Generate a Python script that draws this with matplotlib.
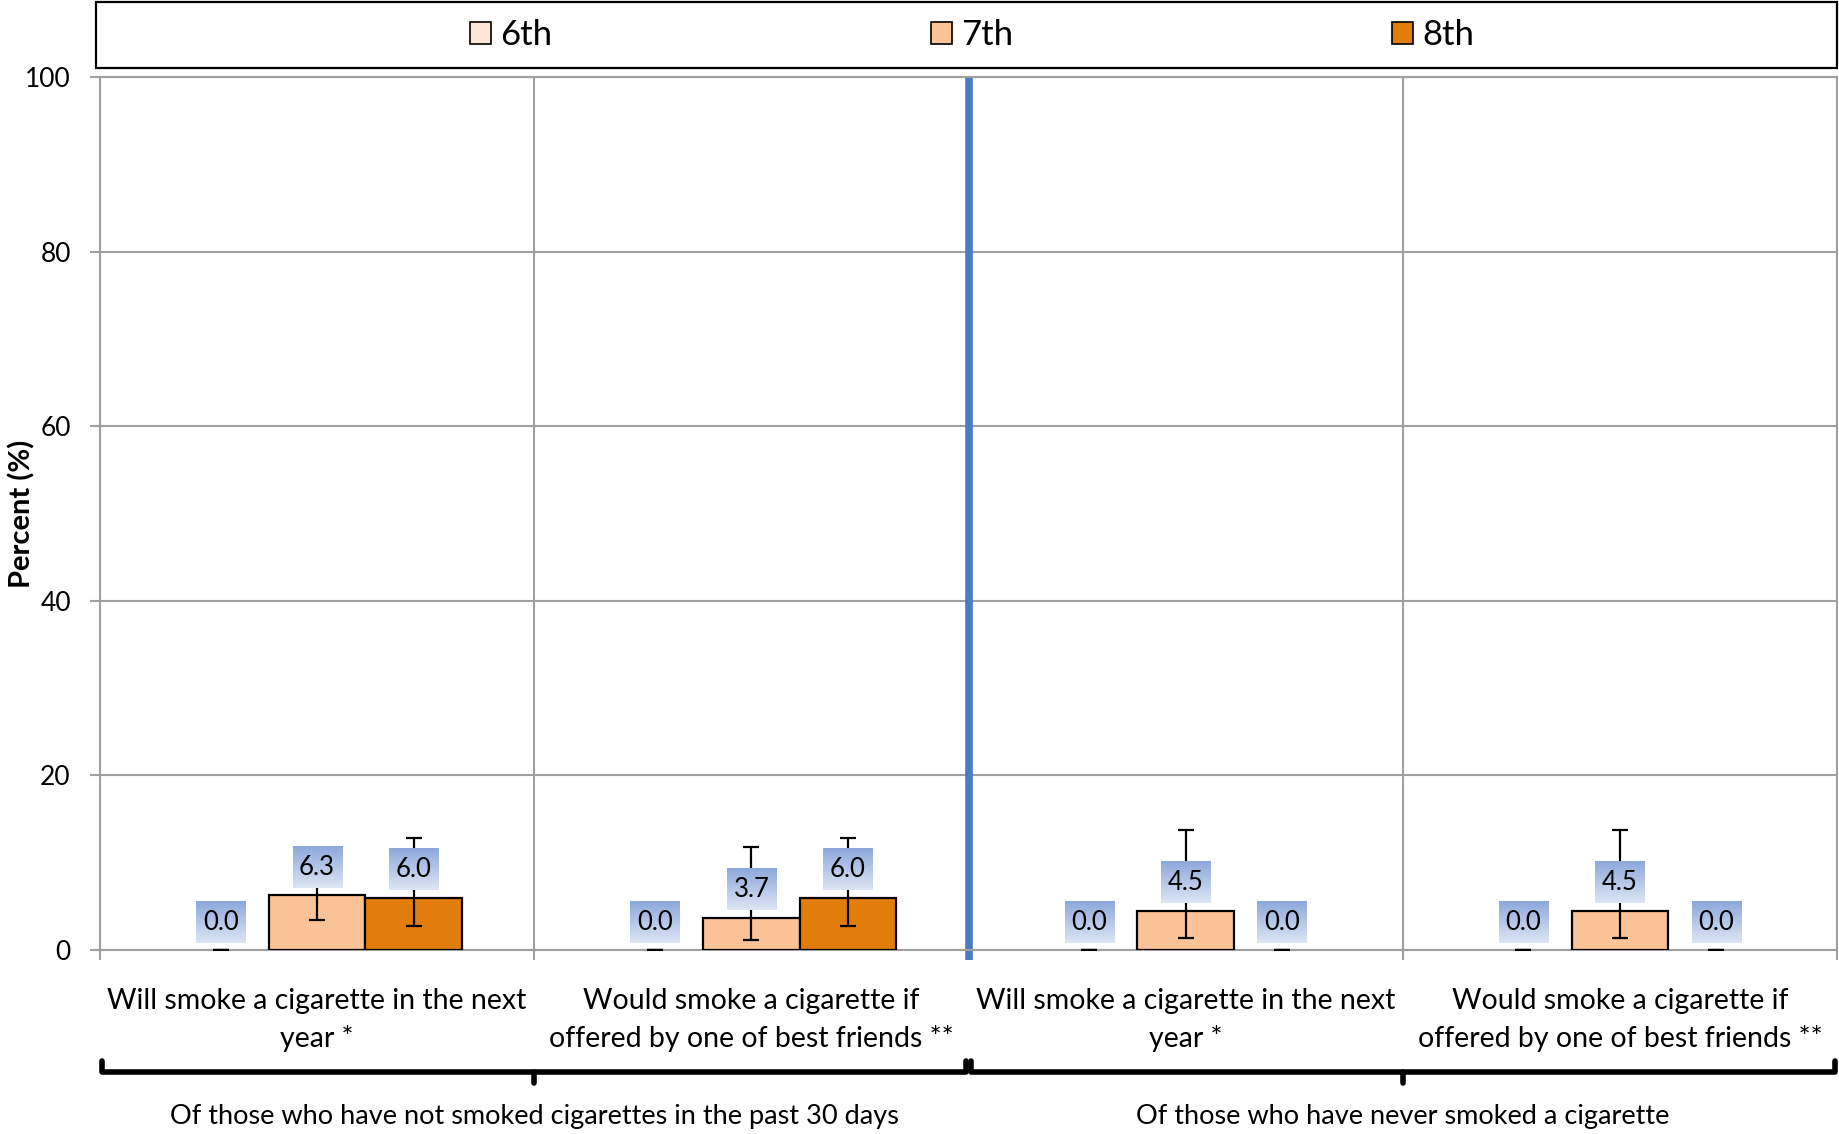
import numpy as np
import matplotlib
matplotlib.use("Agg")
import matplotlib.pyplot as plt
from matplotlib.patches import Rectangle, Patch
import matplotlib.transforms as mtransforms

plt.rcParams["font.family"] = ["Lato", "DejaVu Sans"]

# data
categories = [
    "Will smoke a cigarette in the next\nyear *",
    "Would smoke a cigarette if\noffered by one of best friends **",
    "Will smoke a cigarette in the next\nyear *",
    "Would smoke a cigarette if\noffered by one of best friends **",
]
groups = [
    "Of those who have not smoked cigarettes in the past 30 days",
    "Of those who have never smoked a cigarette",
]
series = ["6th", "7th", "8th"]
grade6 = [0.0, 0.0, 0.0, 0.0]
grade7 = [6.3, 3.7, 4.5, 4.5]
grade8 = [6.0, 6.0, 0.0, 0.0]
low6 = [0.0, 0.0, 0.0, 0.0]
high6 = [0.0, 0.0, 0.0, 0.0]
low7 = [3.4, 1.2, 1.4, 1.4]
high7 = [11.0, 11.8, 13.7, 13.7]
low8 = [2.7, 2.7, 0.0, 0.0]
high8 = [12.8, 12.8, 0.0, 0.0]

colors = ["#FDE6D8", "#FCC397", "#E27C0B"]
grid_col = "#A0A0A0"

fig = plt.figure(figsize=(18.39, 11.34), dpi=100)
ax = fig.add_axes([100 / 1839, 1 - 950 / 1134, 1737 / 1839, 873 / 1134])

x = np.arange(len(categories)) + 0.5
width = 0.222
offsets = [-width, 0.0, width]
values = [grade6, grade7, grade8]
lows = [low6, low7, low8]
highs = [high6, high7, high8]

# gradient for the data label boxes (darker blue on top)
grad = np.linspace(0, 1, 64)[:, None]
top_c = np.array([0.55, 0.66, 0.86])
bot_c = np.array([0.87, 0.90, 0.96])
grad_img = top_c[None, None, :] * (1 - grad[:, :, None]) + bot_c[None, None, :] * grad[:, :, None]

for vals, lo, hi, off, col in zip(values, lows, highs, offsets, colors):
    vals = np.array(vals)
    edges = ["black" if v > 0 else "none" for v in vals]
    ax.bar(x + off, vals, width, color=col, edgecolor=edges, linewidth=1.6, zorder=3)
    yerr = np.vstack([vals - np.array(lo), np.array(hi) - vals])
    ax.errorbar(x + off, vals, yerr=yerr, fmt="none", ecolor="black",
                elinewidth=1.6, capsize=5.5, capthick=1.6, zorder=4)
    for xi, v in zip(x + off, vals):
        yc = v + 3.2
        ax.imshow(grad_img, extent=[xi - 0.0565, xi + 0.0565, yc - 2.35, yc + 2.35],
                  aspect="auto", zorder=5, interpolation="bilinear")
        ax.text(xi, yc, f"{v:.1f}", ha="center", va="center", fontsize=18.5, zorder=6)

ax.set_xlim(0, 4)
ax.set_ylim(0, 100)
ax.set_yticks(np.arange(0, 101, 20))
ax.set_xticks(np.arange(0, 5))
ax.set_xticklabels([])
ax.tick_params(axis="both", direction="out", length=7, width=1.5, color=grid_col)
ax.tick_params(axis="y", labelsize=19, pad=14)
ax.grid(True, color=grid_col, linewidth=1.5, zorder=0)
ax.set_axisbelow(True)
for s in ax.spines.values():
    s.set_color(grid_col)
    s.set_linewidth(1.5)

ax.set_ylabel("Percent (%)", fontsize=21, fontweight="bold")
ax.yaxis.set_label_coords(-0.037, 0.5)

# divider between the two groups
ax.axvline(2, ymin=-0.011, ymax=1, color="#4A7CC3", linewidth=5.5, clip_on=False,
           solid_capstyle="butt", zorder=2)

trans = mtransforms.blended_transform_factory(ax.transData, ax.transAxes)
for xi, lab in zip(x, categories):
    ax.text(xi, -0.044, lab, transform=trans, ha="center", va="top",
            fontsize=20.5, linespacing=1.5)

for gi, glab in enumerate(groups):
    a, b = 2 * gi + 0.005, 2 * gi + 1.995
    ax.plot([a, a, b, b], [-0.127, -0.140, -0.140, -0.127], color="black",
            linewidth=4, transform=trans, clip_on=False,
            solid_joinstyle="round", solid_capstyle="round")
    ax.plot([2 * gi + 1, 2 * gi + 1], [-0.140, -0.152], color="black",
            linewidth=4, transform=trans, clip_on=False, solid_capstyle="round")
    ax.text(2 * gi + 1, -0.191, glab, transform=trans, ha="center", va="center", fontsize=19.5)

# legend box across the top
fig.patches.append(Rectangle((96 / 1839, 1 - 68 / 1134), 1741 / 1839, 66 / 1134,
                             transform=fig.transFigure, facecolor="white",
                             edgecolor="black", linewidth=1.6))
handles = [Patch(facecolor=c, edgecolor="black", linewidth=1.2) for c in colors]
fig.legend(handles, series, loc="center", bbox_to_anchor=(972 / 1839, 1 - 35 / 1134),
           ncol=3, frameon=False, fontsize=25, handlelength=0.6, handleheight=0.6,
           handletextpad=0.27, columnspacing=10.9)

fig.savefig("out.png", dpi=100)
